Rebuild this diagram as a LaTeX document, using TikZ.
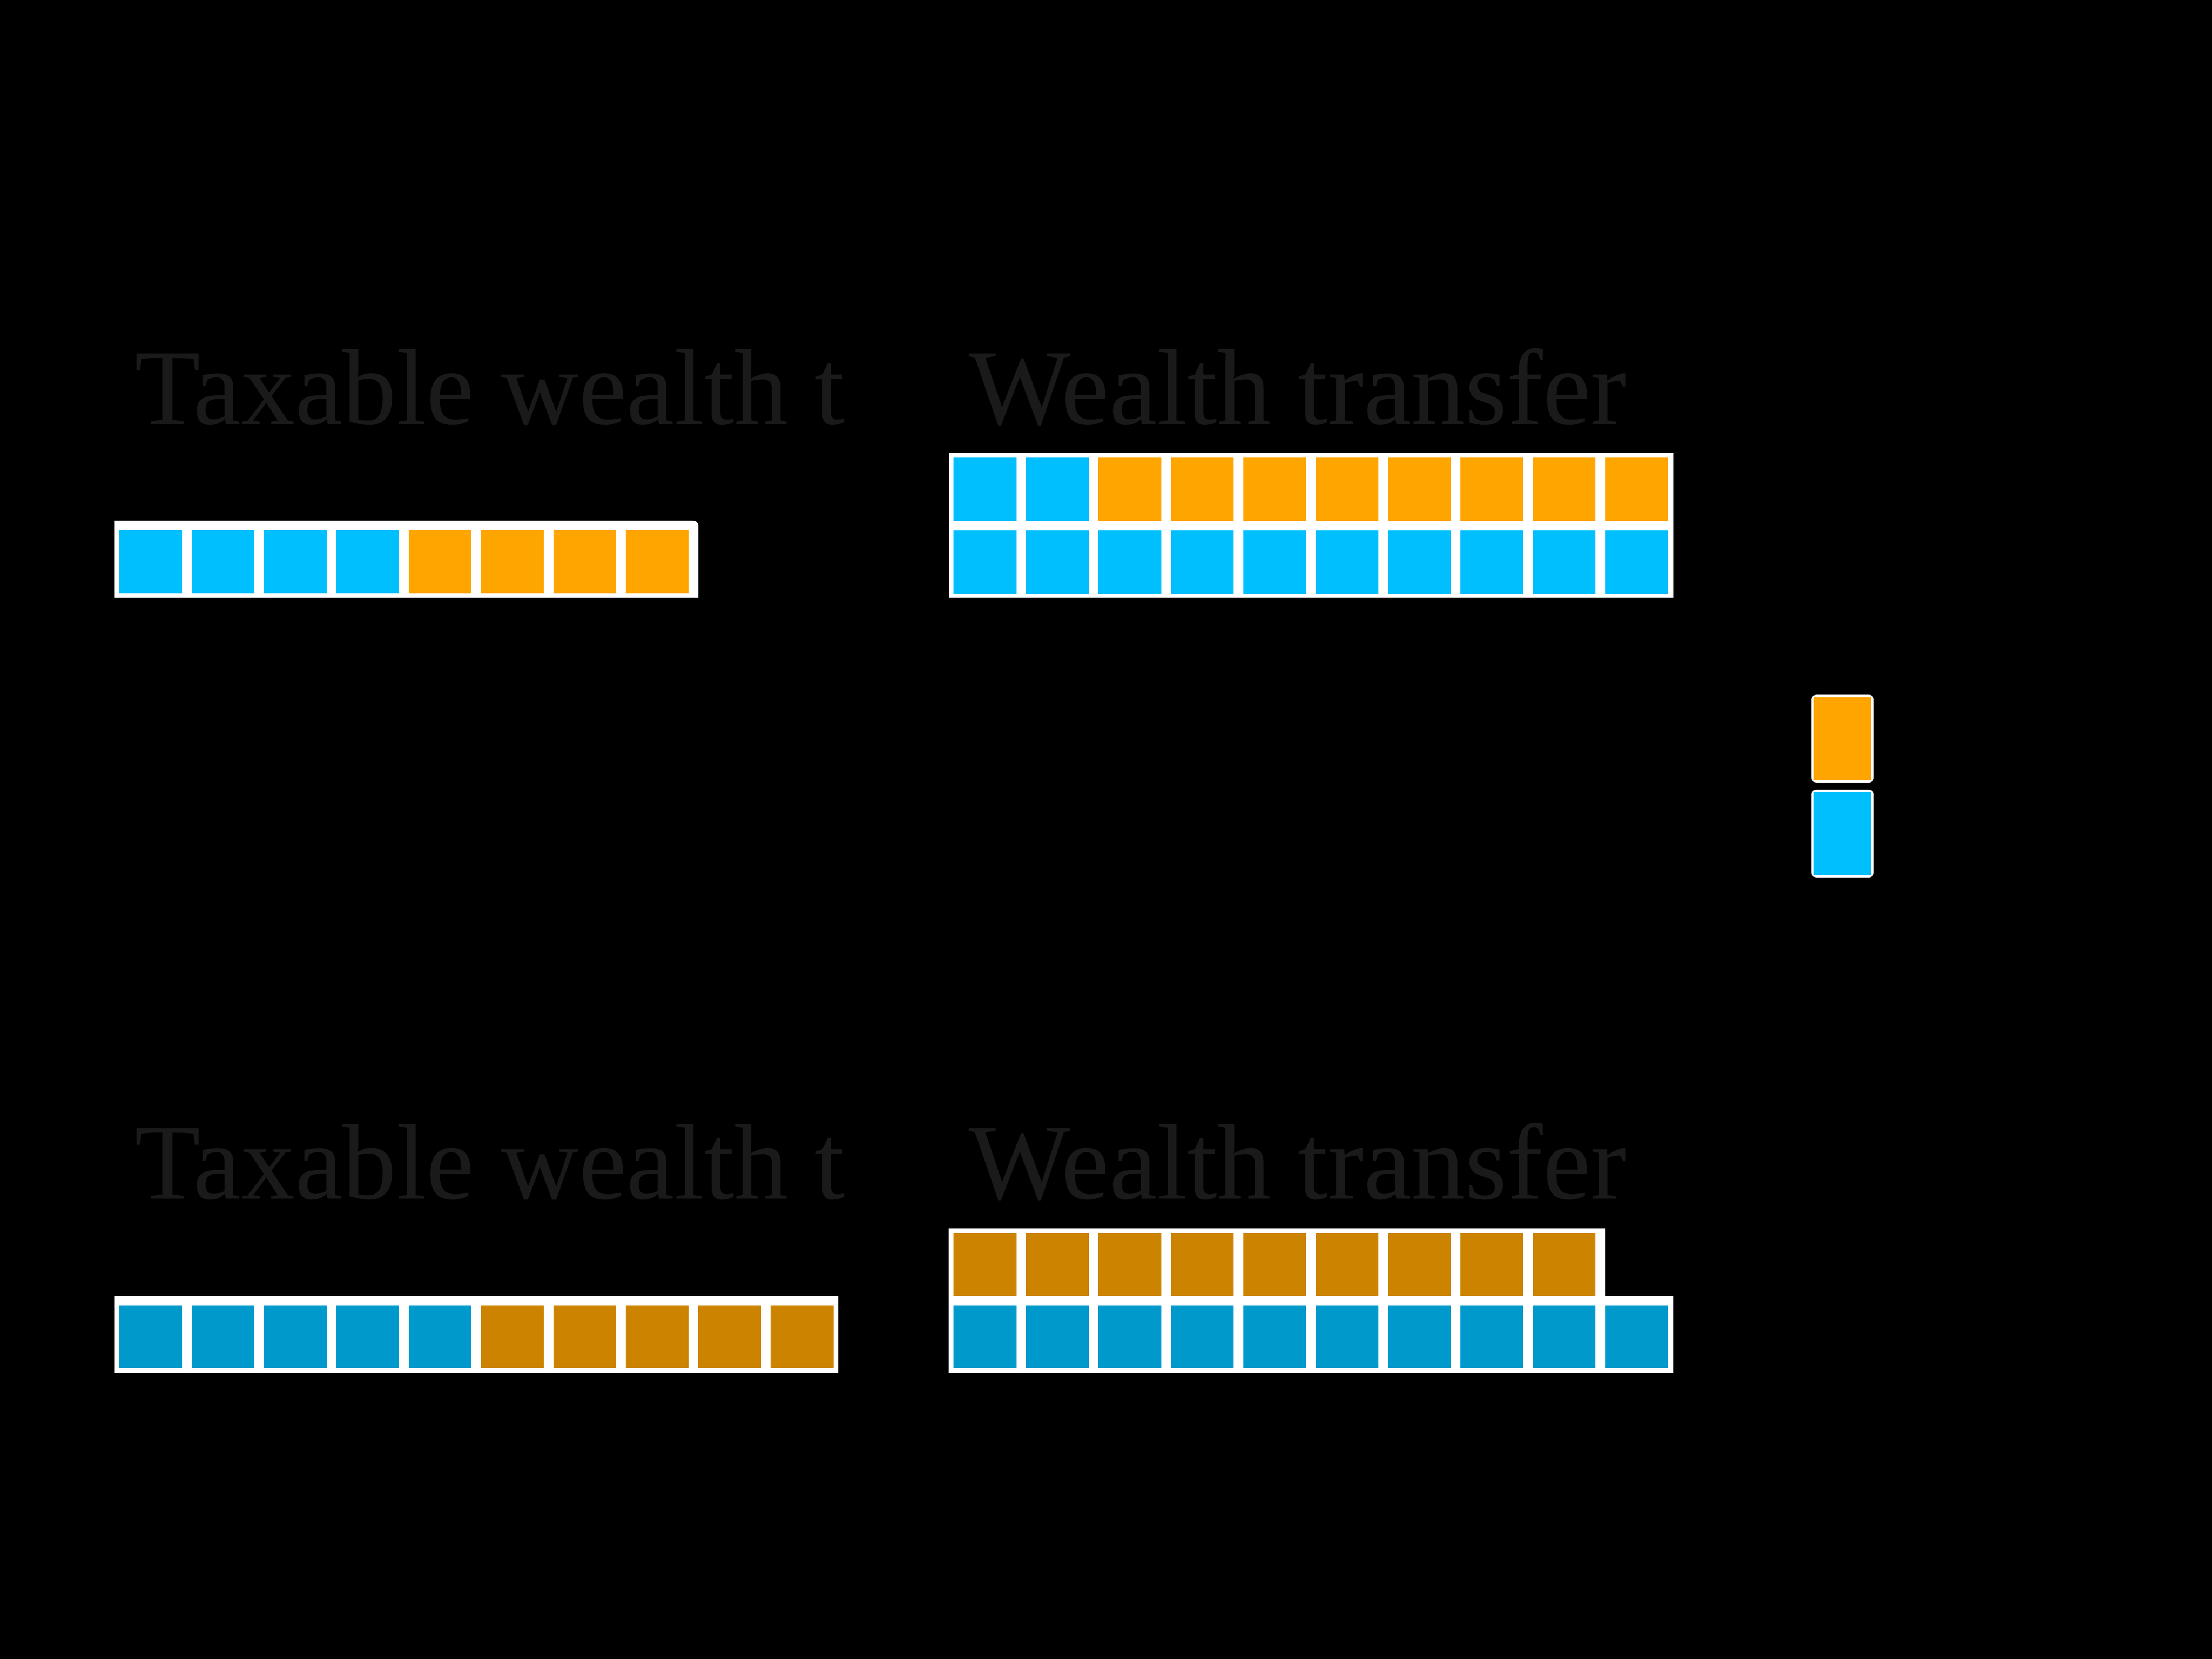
\documentclass[tikz,border=0pt]{standalone}
\usepackage{fontspec}
\setmainfont{Liberation Serif}
\definecolor{sky}{HTML}{00BFFF}
\definecolor{org}{HTML}{FFA500}
\definecolor{dsky}{HTML}{0099CC}
\definecolor{dorg}{HTML}{CC8400}
\definecolor{ttl}{HTML}{1A1A1A}
\begin{document}
\begin{tikzpicture}[x=0.01cm,y=-0.01cm,
  title/.style={anchor=base west,inner sep=0pt,text=ttl,font=\fontsize{21.7pt}{26pt}\selectfont},
  bgbar/.style={fill=white},
  legbox/.style={fill=white,rounded corners=1pt}]
\fill[black] (0,0) rectangle (1568,1176);
\useasboundingbox (0,0) rectangle (1568,1176);

% titles
\node[title] (t1) at (95,300.6) {Taxable wealth t};
\node[title] (t2) at (686,300.6) {Wealth transfer};
\node[title] (t3) at (95,849.9) {Taxable wealth t};
\node[title] (t4) at (686,849.9) {Wealth transfer};

% top-left bar
\fill[bgbar] (81.3,423.7) -- (81.3,369) [rounded corners=1pt] -- (495,369) [sharp corners] -- (495,423.7) -- cycle;
\foreach \i in {0,...,3} \fill[sky] (84.5+51.3*\i,375.7) rectangle ++(44.6,44.8);
\foreach \i in {4,...,7} \fill[org] (84.5+51.3*\i,375.7) rectangle ++(44.6,44.8);

% top-right bars
\fill[bgbar] (672.5,321) rectangle (1186,423.7);
\foreach \i in {0,1} \fill[sky] (676+51.3*\i,324.4) rectangle ++(44.6,44.7);
\foreach \i in {2,...,9} \fill[org] (676+51.3*\i,324.4) rectangle ++(44.6,44.7);
\foreach \i in {0,...,9} \fill[sky] (676+51.3*\i,375.9) rectangle ++(44.6,44.7);

% legend
\fill[legbox] (1284,492.5) rectangle (1328.3,554.7);
\fill[org] (1285.9,494.4) rectangle (1326.3,552.9);
\fill[legbox] (1284,559.7) rectangle (1328.3,622);
\fill[sky] (1285.9,561.6) rectangle (1326.3,620.2);

% bottom-left bar
\fill[bgbar] (81.3,918.6) rectangle (594.3,973.3);
\foreach \i in {0,...,4} \fill[dsky] (84.5+51.3*\i,925.3) rectangle ++(44.6,44.7);
\foreach \i in {5,...,9} \fill[dorg] (84.5+51.3*\i,925.3) rectangle ++(44.6,44.7);

% bottom-right bars
\fill[bgbar] (672.5,870.7) -- (1137.7,870.7) -- (1137.7,918.6) -- (1186,918.6) -- (1186,973.3) -- (672.5,973.3) -- cycle;
\foreach \i in {0,...,8} \fill[dorg] (676+51.3*\i,874.1) rectangle ++(44.6,44.5);
\foreach \i in {0,...,9} \fill[dsky] (676+51.3*\i,925.3) rectangle ++(44.6,44.7);
\end{tikzpicture}
\end{document}
